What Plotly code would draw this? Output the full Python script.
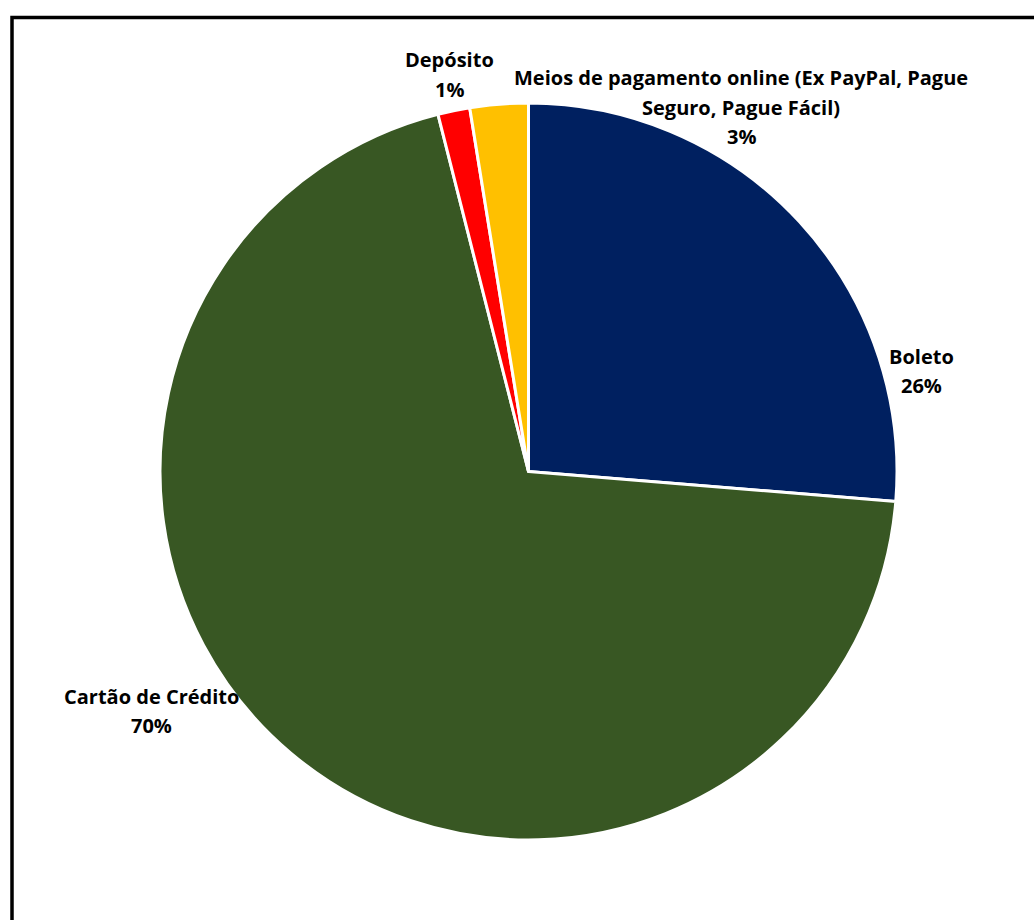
import plotly.graph_objects as go

# Share of payment methods (clockwise from 12 o'clock)
categories = [
    "Boleto",
    "Cartão de Crédito",
    "Depósito",
    "Meios de pagamento online (Ex PayPal, Pague<br>Seguro, Pague Fácil)",
]
shares = [26.3, 69.75, 1.4, 2.55]
colors = ["#002060", "#385723", "#FF0000", "#FFC000"]

W, H = 1034, 920
# label anchor (centre of first text line) in pixels, per category
label_pos = [(921, 356), (151, 696), (449, 60), (741, 78)]
LINE = 29.5
FONT = dict(family="Open Sans, Noto Sans, sans-serif", size=20, color="#000000")

fig = go.Figure(
    go.Pie(
        labels=categories,
        values=shares,
        sort=False,
        direction="clockwise",
        rotation=0,
        marker=dict(colors=colors, line=dict(color="#FFFFFF", width=3)),
        textinfo="none",
        hoverinfo="label+percent",
        domain=dict(x=[160 / W, 897 / W], y=[1 - 840 / H, 1 - 103 / H]),
        showlegend=False,
    )
)

total = sum(shares)
annotations = []
for cat, val, (px, py) in zip(categories, shares, label_pos):
    lines = cat.split("<br>") + [f"{round(val / total * 100):.0f}%"]
    for i, line in enumerate(lines):
        annotations.append(
            dict(
                text=f"<b>{line}</b>",
                x=px / W,
                y=1 - (py + i * LINE) / H,
                xref="paper",
                yref="paper",
                xanchor="center",
                yanchor="middle",
                showarrow=False,
                font=FONT,
            )
        )

fig.update_layout(
    width=W,
    height=H,
    margin=dict(l=0, r=0, t=0, b=0),
    paper_bgcolor="#FFFFFF",
    plot_bgcolor="#FFFFFF",
    annotations=annotations,
    shapes=[
        dict(
            type="rect",
            xref="paper",
            yref="paper",
            x0=12 / W,
            x1=1.05,
            y0=-0.05,
            y1=1 - 17.5 / H,
            line=dict(color="#000000", width=3.5),
            fillcolor="rgba(0,0,0,0)",
        )
    ],
)

fig.write_html("out.html")
